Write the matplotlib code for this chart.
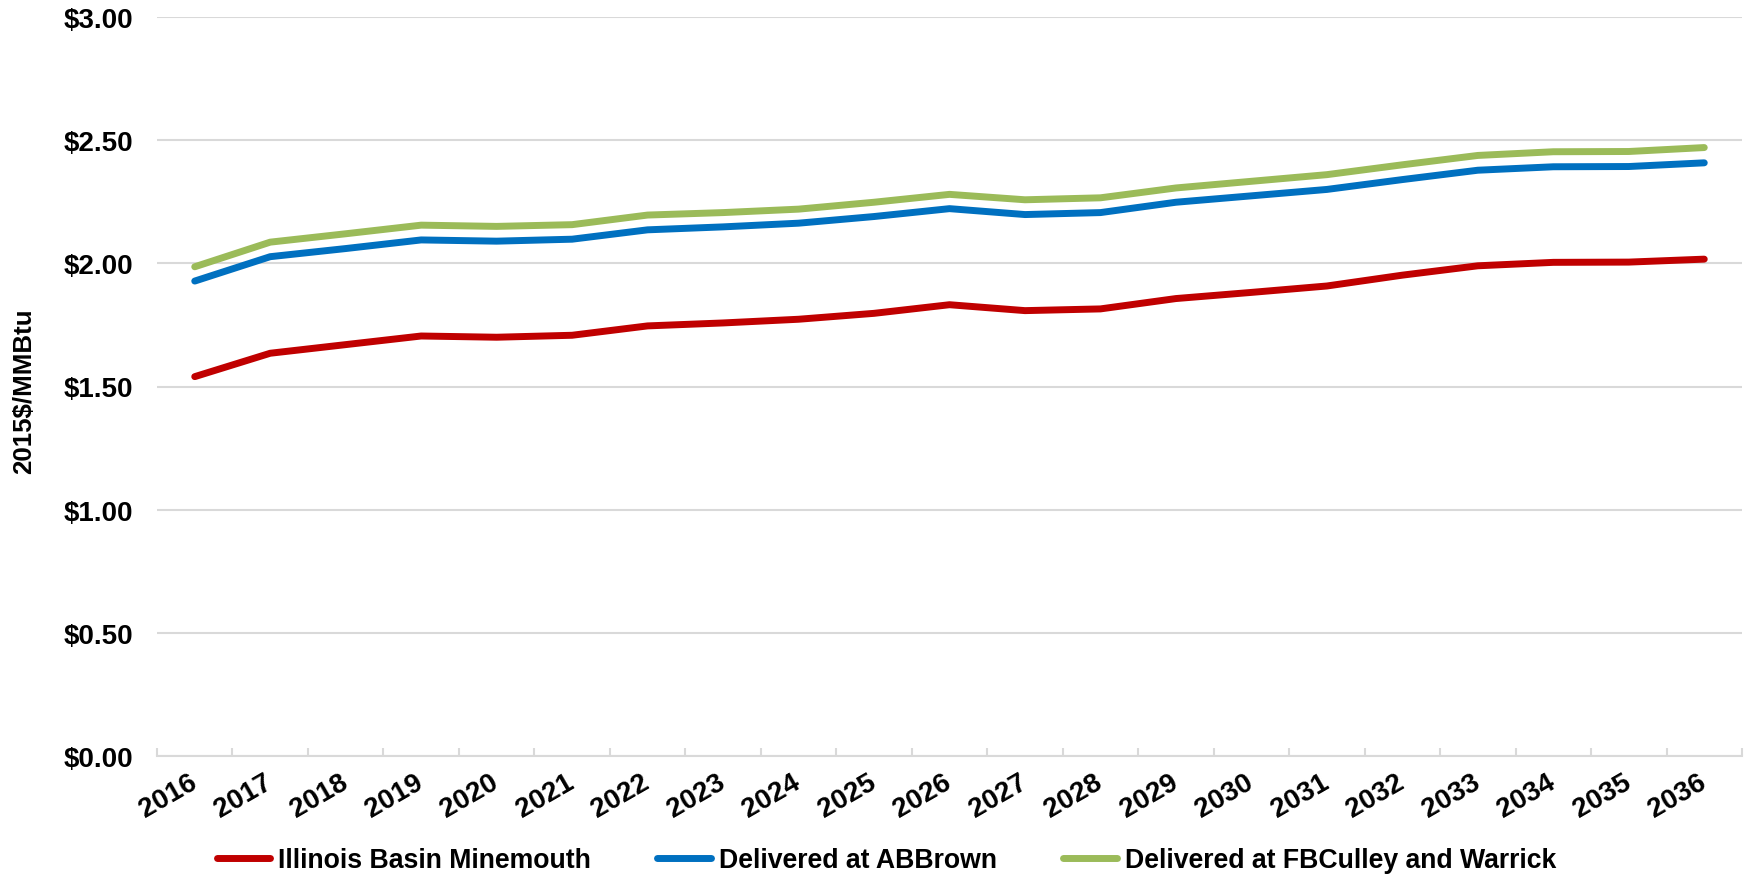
import matplotlib
matplotlib.use("Agg")
import matplotlib.pyplot as plt
import numpy as np

years = [str(y) for y in range(2016, 2037)]
illinois = [1.54, 1.635, 1.67, 1.705, 1.70, 1.708, 1.746, 1.758, 1.773, 1.797, 1.832,
            1.808, 1.815, 1.857, 1.882, 1.908, 1.952, 1.990, 2.004, 2.005, 2.017]
abbrown = [1.928, 2.027, 2.06, 2.095, 2.09, 2.098, 2.136, 2.148, 2.163, 2.19, 2.222,
           2.198, 2.206, 2.248, 2.274, 2.30, 2.34, 2.378, 2.392, 2.393, 2.408]
fbculley = [1.986, 2.086, 2.12, 2.155, 2.15, 2.157, 2.196, 2.206, 2.22, 2.248, 2.28,
            2.258, 2.266, 2.306, 2.333, 2.36, 2.40, 2.438, 2.453, 2.454, 2.47]
series_names = ["Illinois Basin Minemouth", "Delivered at ABBrown", "Delivered at FBCulley and Warrick"]
colors = ["#C00000", "#0070C0", "#9BBB59"]
yticks = [0, 0.5, 1.0, 1.5, 2.0, 2.5, 3.0]

plt.rcParams['font.family'] = ['Liberation Sans', 'DejaVu Sans']
plt.rcParams['font.weight'] = 'bold'

fig = plt.figure(figsize=(17.48, 8.79), dpi=100)
ax = fig.add_axes([157/1748, 1-757/879, (1742-157)/1748, (757-18)/879])

x = np.arange(len(years))
for vals, name, c in zip([illinois, abbrown, fbculley], series_names, colors):
    ax.plot(x, vals, color=c, lw=5, solid_capstyle='round', solid_joinstyle='round', label=name)

ax.set_xlim(-0.5, len(years)-0.5)
ax.set_ylim(0, 3.0)
ax.set_yticks(yticks)
ax.set_yticklabels([f"${v:.2f}" for v in yticks], fontsize=20, fontweight='bold')
ax.yaxis.grid(True, color='#D9D9D9', lw=1.5)
ax.set_axisbelow(True)
ax.tick_params(axis='y', length=0, pad=17)

ax.set_xticks(x)
ax.set_xticklabels(years, fontsize=20, fontweight='bold', rotation=30, ha='right', va='center', rotation_mode='anchor')
ax.tick_params(axis='x', which='major', length=0, pad=17)
ax.set_xticks(np.arange(-0.5, len(years), 1.0), minor=True)
ax.tick_params(axis='x', which='minor', length=6, direction='in', color='#D9D9D9', width=1.5)

for s in ['top', 'right', 'left']:
    ax.spines[s].set_visible(False)
ax.spines['bottom'].set_color('#D9D9D9')
ax.spines['bottom'].set_linewidth(1.5)

fig.text(24/1748, 1-391/879, "2015$/MMBtu", rotation=90, ha='center', va='center', fontsize=18.6, fontweight='bold')

leg = fig.legend(loc='center', bbox_to_anchor=(0.507, 1-861/879), ncol=3, frameon=False,
                 prop={'size': 19.2, 'weight': 'bold'}, handlelength=2.0, columnspacing=2.5, handletextpad=0.3)

fig.savefig("out.png", dpi=100)
